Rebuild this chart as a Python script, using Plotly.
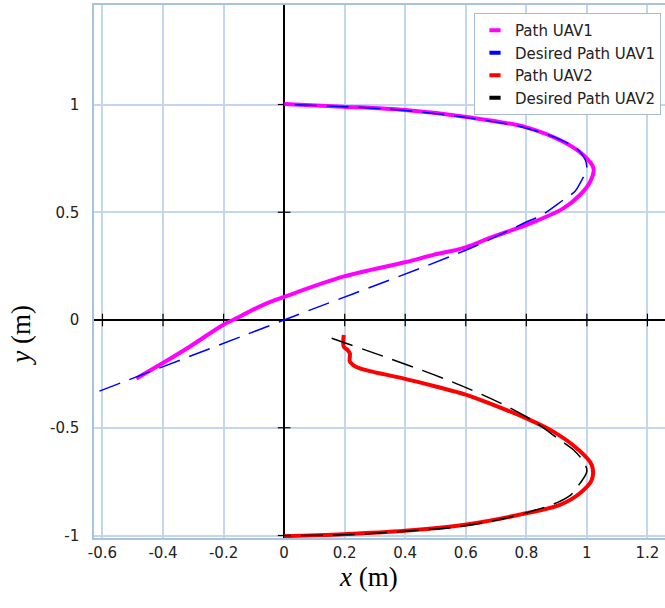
import plotly.graph_objects as go

# Flown path of UAV1 (m)
uav1_x = [-0.488, -0.402, -0.312, -0.202, -0.169, -0.069, 0.002, 0.195, 0.399, 0.493,
          0.597, 0.691, 0.800, 0.922, 0.977, 1.011, 1.022, 0.988, 0.922, 0.800,
          0.597, 0.400, 0.195, 0.000]
uav1_y = [-0.271, -0.201, -0.124, -0.023, 0.000, 0.070, 0.108, 0.201, 0.268, 0.302,
          0.336, 0.387, 0.441, 0.518, 0.580, 0.642, 0.704, 0.766, 0.827, 0.894,
          0.943, 0.974, 0.990, 1.002]

# Desired path of UAV1 (m)
ref1_x = [-0.610, 0.000, 0.625, 0.800, 0.845, 0.922, 0.961, 0.977, 1.000, 0.977,
          0.920, 0.800, 0.600, 0.400, 0.200, 0.000]
ref1_y = [-0.330, 0.000, 0.339, 0.455, 0.482, 0.557, 0.597, 0.634, 0.710, 0.781,
          0.832, 0.890, 0.940, 0.972, 0.990, 1.000]

# Flown path of UAV2 (m)
uav2_x = [0.197, 0.197, 0.209, 0.217, 0.217, 0.228, 0.250, 0.283, 0.393, 0.504,
          0.597, 0.691, 0.799, 0.889, 0.967, 1.016, 1.016, 0.977, 0.911, 0.799,
          0.597, 0.399, 0.195, 0.000]
uav2_y = [-0.070, -0.124, -0.139, -0.155, -0.193, -0.209, -0.224, -0.237, -0.271, -0.310,
          -0.345, -0.394, -0.456, -0.518, -0.596, -0.673, -0.742, -0.804, -0.858, -0.897,
          -0.950, -0.978, -0.994, -1.003]

# Desired path of UAV2 (m)
ref2_x = [0.157, 0.581, 0.800, 0.911, 0.956, 0.985, 1.000, 0.977, 0.939, 0.800,
          0.597, 0.400, 0.195, 0.000]
ref2_y = [-0.085, -0.302, -0.449, -0.557, -0.603, -0.650, -0.700, -0.758, -0.820, -0.895,
          -0.955, -0.980, -0.997, -1.000]

x_ticks = [-0.6, -0.4, -0.2, 0, 0.2, 0.4, 0.6, 0.8, 1.0, 1.2]
x_tick_labels = ["-0.6", "-0.4", "-0.2", "0", "0.2", "0.4", "0.6", "0.8", "1", "1.2"]
y_ticks = [-1, -0.5, 0, 0.5, 1]
y_tick_labels = ["-1", "-0.5", "0", "0.5", "1"]

series = [
    ("Path UAV1", uav1_x, uav1_y, "#ff00ff", 4, "solid"),
    ("Desired Path UAV1", ref1_x, ref1_y, "#0000ff", 1.5, "22px,10px"),
    ("Path UAV2", uav2_x, uav2_y, "#ff0000", 4, "solid"),
    ("Desired Path UAV2", ref2_x, ref2_y, "#000000", 1.5, "22px,10px"),
]

fig = go.Figure()

# tick marks crossing the axes through the origin
fig.add_trace(go.Scatter(
    x=x_ticks, y=[0] * len(x_ticks), mode="markers", showlegend=False, hoverinfo="skip",
    marker=dict(symbol="line-ns", size=9, color="black", line=dict(width=1.2, color="black"))))
fig.add_trace(go.Scatter(
    x=[0] * len(y_ticks), y=y_ticks, mode="markers", showlegend=False, hoverinfo="skip",
    marker=dict(symbol="line-ew", size=9, color="black", line=dict(width=1.2, color="black"))))

for name, xs, ys, color, width, dash in series:
    fig.add_trace(go.Scatter(
        x=xs, y=ys, mode="lines", name=name, showlegend=False,
        line=dict(color=color, width=width, dash=dash, shape="spline", smoothing=1)))

# legend swatches: short thick bars
for name, xs, ys, color, width, dash in series:
    fig.add_trace(go.Scatter(
        x=[None], y=[None], mode="markers", name=name,
        marker=dict(symbol="line-ew", size=8, color=color, line=dict(width=4, color=color))))

axis_font = dict(family="DejaVu Sans", size=15, color="#222222")

fig.update_xaxes(
    range=[-0.628, 1.258], tickvals=x_ticks, ticktext=x_tick_labels, tickfont=axis_font,
    showgrid=True, gridcolor="#c2d7ee", gridwidth=1.5,
    zeroline=True, zerolinecolor="black", zerolinewidth=1.5,
    showline=True, linecolor="#a8c2e2", linewidth=1.5, mirror=True, ticks="")
fig.update_yaxes(
    range=[-1.0116, 1.4617], tickvals=y_ticks, ticktext=y_tick_labels, tickfont=axis_font,
    showgrid=True, gridcolor="#c2d7ee", gridwidth=1.5,
    zeroline=True, zerolinecolor="black", zerolinewidth=1.5,
    showline=True, linecolor="#a8c2e2", linewidth=1.5, mirror=False, ticks="",
    ticklabelstandoff=10)

title_font = dict(family="Liberation Serif, Times New Roman, serif", size=27, color="black")
fig.add_annotation(text="<i>x</i> (m)", xref="paper", yref="paper", x=0.4816, y=-0.074,
                   xanchor="center", yanchor="middle", showarrow=False, font=title_font)
fig.add_annotation(text="<i>y</i> (m)", xref="paper", yref="paper", x=-0.128, y=0.381,
                   xanchor="center", yanchor="middle", showarrow=False, font=title_font,
                   textangle=-90)

fig.update_layout(
    width=665, height=608,
    margin=dict(l=94, r=0, t=5, b=70),
    plot_bgcolor="white", paper_bgcolor="white",
    legend=dict(x=0.993, y=0.985, xanchor="right", yanchor="top",
                bgcolor="white", bordercolor="#a9bccf", borderwidth=1,
                font=dict(family="DejaVu Sans", size=15, color="#222222"),
                tracegroupgap=0, itemwidth=30),
)

fig.write_html("out.html")
